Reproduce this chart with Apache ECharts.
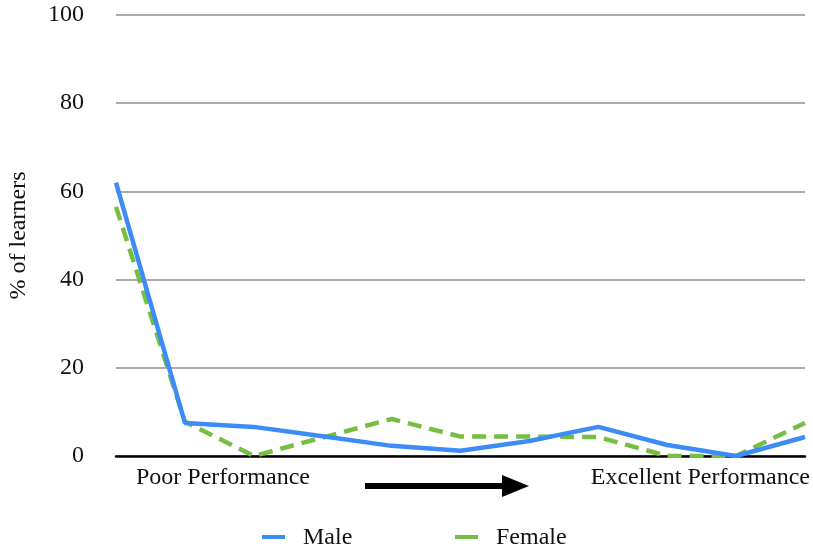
<!DOCTYPE html>
<html>
<head>
<meta charset="utf-8">
<script src="https://cdn.jsdelivr.net/npm/echarts@6/dist/echarts.min.js"></script>
<style>
  html, body { margin: 0; padding: 0; background: #fff; }
  #chart { width: 813px; height: 549px; }
</style>
</head>
<body>
<div id="chart"></div>
<script>
// Performance levels from poor (left) to excellent (right)
const categories = ['1', '2', '3', '4', '5', '6', '7', '8', '9', '10', '11'];
const maleValues = [62, 7.5, 6.6, 4.5, 2.3, 1.2, 3.4, 6.6, 2.5, 0, 4.3];
const femaleValues = [56.5, 7.8, 0, 4.2, 8.4, 4.4, 4.4, 4.3, 0, 0, 7.5];
const yTicks = [0, 20, 40, 60, 80, 100];
const seriesNames = ['Male', 'Female'];

const FONT = 'Liberation Serif';
const BLUE = '#3d8bf7';
const GREEN = '#76bd43';
const chart = echarts.init(document.getElementById('chart'));

// Key row under the chart: a short solid bar followed by the series name
function legendEntry(x, name, color) {
  return [
    {
      type: 'rect',
      shape: { x: x, y: 535, width: 23, height: 4 },
      style: { fill: color }
    },
    {
      type: 'text',
      x: x + 41, y: 538,
      style: {
        text: name,
        font: '24px "' + FONT + '"',
        fill: '#111',
        verticalAlign: 'middle'
      }
    }
  ];
}

chart.setOption({
  animation: false,
  textStyle: { fontFamily: FONT },
  grid: { left: 116, right: 8, top: 15, bottom: 93, containLabel: false, outerBoundsMode: 'none' },
  xAxis: {
    type: 'category',
    data: categories,
    boundaryGap: false,
    axisLine: { lineStyle: { color: '#000', width: 2.5 } },
    axisTick: { show: false },
    axisLabel: { show: false }
  },
  yAxis: {
    type: 'value',
    min: yTicks[0],
    max: yTicks[yTicks.length - 1],
    interval: 20,
    name: '% of learners',
    nameLocation: 'middle',
    nameGap: 85,
    nameTextStyle: { fontFamily: FONT, fontSize: 24, color: '#111' },
    axisLine: { show: false },
    axisTick: { show: false },
    axisLabel: { fontFamily: FONT, fontSize: 24, color: '#111', margin: 32 },
    splitLine: { lineStyle: { color: '#aaaaaa', width: 2 } }
  },
  series: [
    {
      name: seriesNames[0],
      type: 'line',
      data: maleValues,
      symbol: 'none',
      color: BLUE,
      lineStyle: { width: 4.5, color: BLUE },
      z: 3
    },
    {
      name: seriesNames[1],
      type: 'line',
      data: femaleValues,
      symbol: 'none',
      color: GREEN,
      lineStyle: { width: 4.5, color: GREEN, type: [14, 8] },
      z: 2
    }
  ],
  graphic: [
    {
      type: 'text',
      left: 136, top: 466,
      style: { text: 'Poor Performance', font: '24px "' + FONT + '"', fill: '#111' }
    },
    {
      type: 'text',
      right: 3, top: 466,
      style: { text: 'Excellent Performance', font: '24px "' + FONT + '"', fill: '#111' }
    },
    {
      type: 'line',
      shape: { x1: 365, y1: 486, x2: 505, y2: 486 },
      style: { stroke: '#000', lineWidth: 6 }
    },
    {
      type: 'polygon',
      shape: { points: [[502, 475], [529, 486], [502, 497]] },
      style: { fill: '#000' }
    },
    ...legendEntry(262, seriesNames[0], BLUE),
    ...legendEntry(455, seriesNames[1], GREEN)
  ]
});
</script>
</body>
</html>
